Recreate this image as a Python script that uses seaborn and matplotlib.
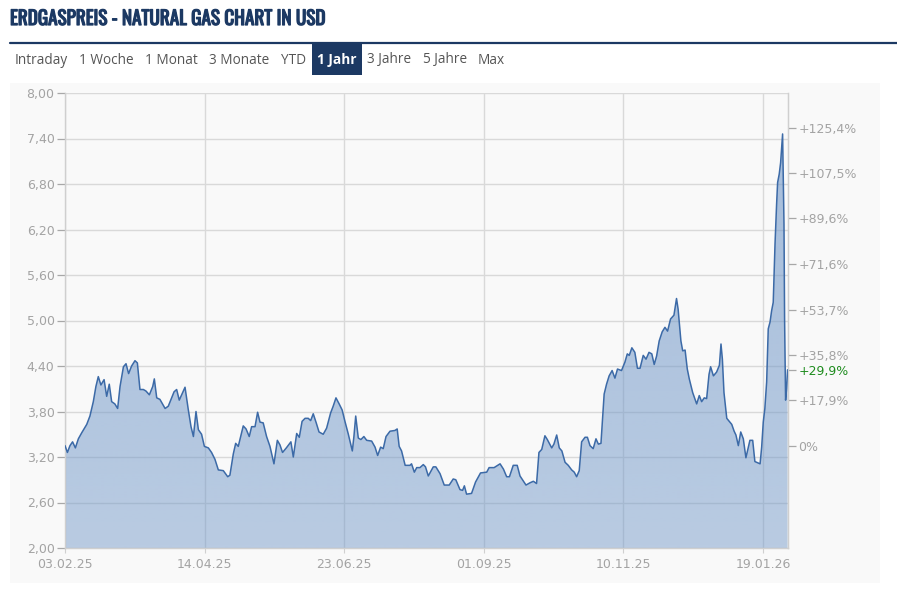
import numpy as np
import pandas as pd
import matplotlib
matplotlib.use('Agg')
import matplotlib.pyplot as plt
import matplotlib.dates as mdates
import matplotlib.patheffects as pe
from matplotlib.colors import to_rgb
from matplotlib.patches import Rectangle
from matplotlib.lines import Line2D
import seaborn as sns

# === Data ===
START = '2025-02-03'
day_offset = [
    0, 1.2, 2.5, 3.8, 5.2, 6.7, 8.4, 10.9, 12.5, 14.2, 15.5, 16.7, 18, 19.6, 20.9, 22.2,
    23.4, 25, 26.4, 27.6, 29.3, 30.6, 31.9, 33.4, 35.1, 36.3, 37.6, 39.3, 40.6, 42.3, 44,
    44.8, 46, 47.6, 50.2, 51.8, 54.7, 56, 57.3, 60.2, 61.8, 63.2, 64.4, 65.7, 66.9, 68.5,
    69.9, 71.9, 73.5, 75.2, 76.9, 79.4, 81.6, 82.7, 84.4, 85.6, 86.9, 89.4, 90.8, 92.4,
    93.6, 95.3, 96.6, 97.8, 99.4, 101.1, 102.8, 104.8, 106.5, 107.8, 109.1, 111, 113.3,
    114.5, 116.2, 117.5, 118.9, 120.4, 122, 123.2, 124.5, 126, 127.4,
    129.5, 131.2, 133.2, 134.5, 135.9, 137.5, 139, 140.4, 142.1, 144.1, 144.9, 145.8,
    147.1, 148.4, 149.9, 151.3, 153.8, 155.5, 156.8, 158.3, 159.6, 161, 163, 165.5, 166.6,
    167.6, 168.8, 170.6, 173, 173.8, 175.2, 176.4, 178, 179.7, 180.8, 182.2, 184.7, 186,
    188.1, 190.2, 192.7, 194.7, 196, 198.1, 199.4, 200.3, 201.4, 203.9, 205.9, 208.4,
    211.5, 212.7, 215.2, 218.2, 219.9, 221.5, 222.9, 224.8, 226.8, 228.2, 231.2, 233.2,
    234.9, 236.5, 237.7,
    239.1, 240.7, 241.9, 244.1, 245.2, 246.6, 247.9, 249.2, 250.8, 252.4, 254.1, 255.4,
    256.6, 257.9, 259.1, 260.8, 262, 263.3, 264.9, 266.3, 267.5, 268.8, 269.6, 270.4,
    271.6, 272.9, 274.4, 275.8, 277.1, 279.1, 280.8, 282, 283, 284.3, 285.8, 287.1, 288.4,
    290, 291.4, 292.9, 294.3, 295.5, 296.7, 298, 299.5, 300.9, 302.2, 303.7, 305.4, 306.7,
    307.5, 308.9, 309.8, 311, 312.1, 313.1, 314.8, 316.8, 318.1, 319.3, 320.6, 321.8, 323,
    323.8, 325.2, 326.8, 328.2, 329, 329.7, 330.5, 331.9, 334.4, 335.6,
    336.5, 337.7, 338.9, 340.2, 341.5, 342.2, 343.5, 344.9, 346, 348.6, 349.4, 350.2, 351,
    351.9, 352.7, 353.6, 354.4, 355.2, 356.1, 356.9, 357.4, 358.2, 358.9, 359.4, 359.9,
    360.6, 360.9, 361.4, 361.9, 362.4,
]
price = [
    3.35, 3.26, 3.35, 3.40, 3.32, 3.44, 3.52, 3.63, 3.74, 3.93, 4.13, 4.26, 4.15, 4.22, 4.00, 4.16,
    3.93, 3.90, 3.84, 4.13, 4.39, 4.43, 4.30, 4.40, 4.47, 4.44, 4.09, 4.09, 4.07, 4.02, 4.13,
    4.23, 3.98, 3.96, 3.84, 3.87, 4.06, 4.09, 3.95, 4.12, 3.83, 3.60, 3.47, 3.80, 3.56, 3.50,
    3.34, 3.32, 3.26, 3.17, 3.03, 3.02, 2.94, 2.96, 3.24, 3.38, 3.34, 3.61, 3.57, 3.47,
    3.60, 3.60, 3.79, 3.66, 3.65, 3.47, 3.34, 3.11, 3.42, 3.36, 3.26, 3.32, 3.40,
    3.20, 3.51, 3.46, 3.67, 3.71, 3.71, 3.68, 3.77, 3.65, 3.53,
    3.50, 3.58, 3.78, 3.87, 3.98, 3.90, 3.82, 3.67, 3.50, 3.28, 3.47, 3.74,
    3.45, 3.43, 3.47, 3.42, 3.41, 3.33, 3.22, 3.33, 3.31, 3.47, 3.54, 3.55, 3.57,
    3.34, 3.28, 3.09, 3.09, 3.11, 3.00, 3.06, 3.06, 3.10, 3.07, 2.95, 3.07, 3.07,
    2.98, 2.83, 2.83, 2.91, 2.90, 2.77, 2.76, 2.82, 2.71, 2.72, 2.87, 2.99,
    3.00, 3.06, 3.06, 3.11, 3.04, 2.94, 2.94, 3.09, 3.09, 2.95, 2.83, 2.86,
    2.88, 2.85, 3.26,
    3.30, 3.48, 3.43, 3.32, 3.37, 3.49, 3.32, 3.28, 3.13, 3.09, 3.03, 3.00,
    2.94, 3.02, 3.40, 3.46, 3.46, 3.35, 3.31, 3.44, 3.37, 3.38, 3.70, 4.03,
    4.16, 4.27, 4.34, 4.24, 4.36, 4.34, 4.45, 4.56, 4.54, 4.64, 4.58, 4.37, 4.37,
    4.54, 4.49, 4.58, 4.56, 4.42, 4.53, 4.73, 4.85, 4.91, 4.86, 5.02, 5.07, 5.29,
    5.15, 4.73, 4.60, 4.61, 4.36, 4.23, 4.05, 3.90, 4.01, 3.93, 3.98, 3.97, 4.29,
    4.39, 4.27, 4.32, 4.41, 4.69, 4.49, 4.05, 3.71, 3.63, 3.54,
    3.49, 3.35, 3.53, 3.44, 3.19, 3.27, 3.42, 3.42, 3.14, 3.11, 3.33, 3.66, 3.84,
    4.19, 4.89, 4.98, 5.13, 5.24, 6.01, 6.54, 6.82, 6.93, 7.08, 7.27, 7.46,
    6.27, 5.02, 3.95, 4.10, 4.35,
]

y_ticks = [2.00, 2.60, 3.20, 3.80, 4.40, 5.00, 5.60, 6.20, 6.80, 7.40, 8.00]
base_price = 3.347
pct_ticks = [0, 17.9, 35.8, 53.7, 71.6, 89.6, 107.5, 125.4]
last_pct = 29.9
date_ticks = ['2025-02-03', '2025-04-14', '2025-06-23', '2025-09-01', '2025-11-10', '2026-01-19']

title = 'ERDGASPREIS - NATURAL GAS CHART IN USD'
tabs = ['Intraday', '1 Woche', '1 Monat', '3 Monate', 'YTD', '1 Jahr', '3 Jahre', '5 Jahre', 'Max']
active_tab = '1 Jahr'

# === Colors ===
NAVY = '#1c3963'
GRID = '#d9d9d9'
PANEL = '#f9f9f9'
LABEL = '#a3a3a3'
LINE = '#3c6aa7'
FILL = '#7097c8'
GREEN = '#1e8c1e'

df = pd.DataFrame({
    'date': pd.to_datetime(START) + pd.to_timedelta(day_offset, unit='D'),
    'price': price,
})

sns.set_style('white')
plt.rcParams['font.family'] = ['DejaVu Sans']

W, H = 897, 592
fig = plt.figure(figsize=(W / 100, H / 100), dpi=100)
fig.patch.set_facecolor('white')


def fx(x):
    return x / W


def fy(y):
    return 1 - y / H


# panel background
fig.patches.append(Rectangle((fx(10), fy(583)), fx(880) - fx(10), fy(83) - fy(583),
                             transform=fig.transFigure, facecolor=PANEL, edgecolor='none',
                             zorder=-5))

# header
fig.text(fx(10), fy(19), title, family=['Oswald', 'Barlow Condensed', 'Archivo Narrow', 'DejaVu Sans'],
         fontweight='bold', fontsize=13.8, color=NAVY, va='center', ha='left',
         path_effects=[pe.withStroke(linewidth=0.9, foreground=NAVY)])
fig.add_artist(Line2D([fx(10), fx(897)], [fy(43), fy(43)], color=NAVY, lw=1.6,
                      transform=fig.transFigure))

tab_x = [15, 79, 145, 209, 281, 317, 367, 423, 478]
for label, x in zip(tabs, tab_x):
    if label == active_tab:
        fig.patches.append(Rectangle((fx(312), fy(75)), fx(362) - fx(312), fy(43) - fy(75),
                                     transform=fig.transFigure, facecolor=NAVY,
                                     edgecolor='none', zorder=1))
        fig.text(fx(x), fy(60), label, family=['Open Sans', 'DejaVu Sans'], fontsize=9.8,
                 fontweight='bold', color='white', va='center', ha='left', zorder=2)
    else:
        fig.text(fx(x), fy(60), label, family=['Open Sans', 'DejaVu Sans'], fontsize=9.8,
                 color='#555555', va='center', ha='left')

# chart axes
ax = fig.add_axes([fx(65), fy(548), fx(788) - fx(65), fy(93) - fy(548)])
ax.set_facecolor(PANEL)

# area under the line: vertical gradient, clipped to the filled polygon
area = ax.fill_between(df['date'], df['price'], 2.0, facecolor='none', lw=0, zorder=2)
x0, x1 = mdates.date2num(df['date'].iloc[0]), mdates.date2num(df['date'].iloc[-1])
n = 256
grad = np.zeros((n, 1, 4))
grad[:, 0, :3] = to_rgb(FILL)
grad[:, 0, 3] = np.linspace(0.62, 0.47, n)  # top row = y 8.0
img = ax.imshow(grad, extent=[x0, x1, 2.0, 8.0], aspect='auto', origin='upper',
                interpolation='bilinear', zorder=2)
img.set_clip_path(area.get_paths()[0], transform=ax.transData)

sns.lineplot(data=df, x='date', y='price', ax=ax, color=LINE, lw=1.1, zorder=3)

ax.set_xlim(df['date'].iloc[0], df['date'].iloc[-1] + pd.Timedelta(hours=5))
ax.set_ylim(2.0, 8.0)

ax.set_yticks(y_ticks)
ax.set_yticklabels([f'{v:.2f}'.replace('.', ',') for v in y_ticks])
ax.set_xticks(pd.to_datetime(date_ticks))
ax.xaxis.set_major_formatter(mdates.DateFormatter('%d.%m.%y'))

ax.grid(True, color=GRID, lw=1, zorder=1)
ax.set_axisbelow(True)
ax.set_xlabel('')
ax.set_ylabel('')

for side in ['left', 'right', 'bottom']:
    ax.spines[side].set_color('#cfcfcf')
    ax.spines[side].set_linewidth(1)
ax.spines['top'].set_visible(False)

ax.tick_params(axis='y', which='both', left=True, length=6, width=0.9, color='#a8a8a8',
               labelsize=9, labelcolor=LABEL, pad=1.5)
ax.tick_params(axis='x', bottom=True, length=3.5, width=0.8, color='#d0d0d0',
               labelsize=9, labelcolor=LABEL, pad=4)

# right axis: change vs. start price
ax2 = ax.twinx()
ax2.set_ylim(ax.get_ylim())
right_pos = [base_price * (1 + p / 100) for p in pct_ticks] + [base_price * (1 + last_pct / 100)]
right_lab = ['0%' if p == 0 else '+' + f'{p:.1f}'.replace('.', ',') + '%' for p in pct_ticks]
right_lab.append('+' + f'{last_pct:.1f}'.replace('.', ',') + '%')
ax2.set_yticks(right_pos)
ax2.set_yticklabels(right_lab)
ax2.tick_params(axis='y', right=True, length=6, width=0.9, color='#a8a8a8',
                labelsize=9, labelcolor=LABEL, pad=1.5)
ax2.get_yticklabels()[-1].set_color(GREEN)
for side in ['left', 'top', 'bottom']:
    ax2.spines[side].set_visible(False)
ax2.spines['right'].set_color('#cfcfcf')
ax2.grid(False)

fig.savefig('out.png', dpi=100, facecolor='white')
